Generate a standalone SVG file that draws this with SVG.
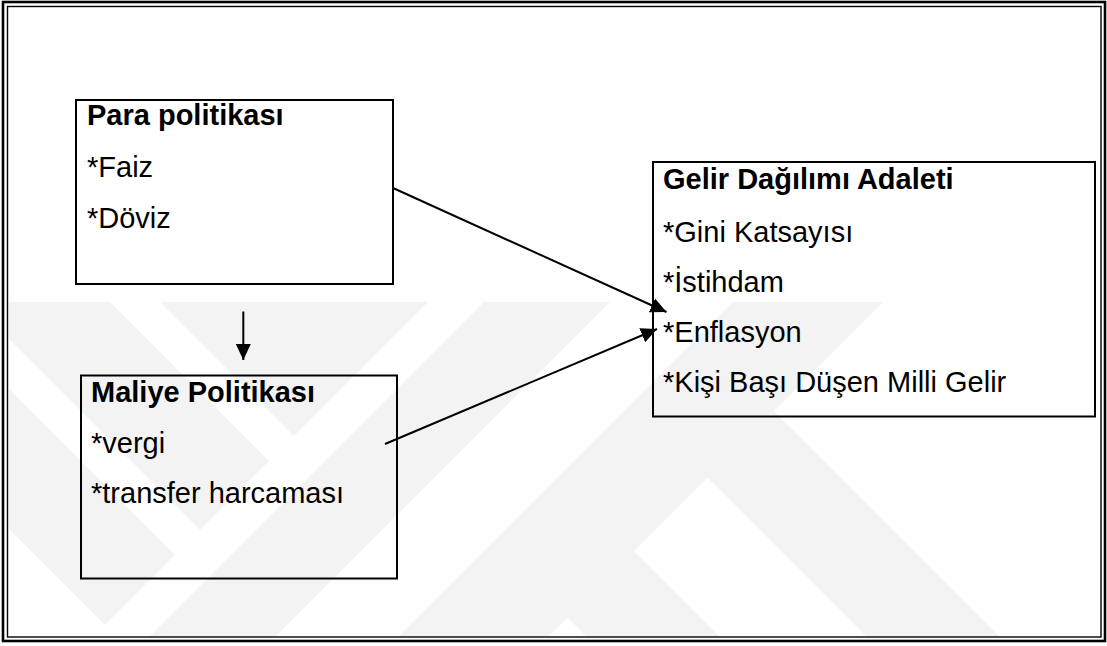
<svg xmlns="http://www.w3.org/2000/svg" width="1107" height="646" viewBox="0 0 1107 646">
  <style>
    .frame { fill: none; stroke: #000; }
    .box { fill: none; stroke: #000; stroke-width: 2; }
    .t { font-family: "Liberation Sans", Arial, sans-serif; font-size: 29px; fill: #000; }
    .b { font-weight: bold; }
    .conn { stroke: #000; stroke-width: 2; fill: none; marker-end: url(#arrow); }
    .wm { fill: #f3f3f3; }
  </style>
  <defs>
    <marker id="arrow" markerUnits="userSpaceOnUse" markerWidth="17" markerHeight="17" viewBox="0 0 17 17" refX="16" refY="8.5" orient="auto">
      <path d="M0,1 L16,8.5 L0,16 Z" fill="#000"/>
    </marker>
    <clipPath id="wmclip">
      <rect x="9" y="302" width="1091" height="334"/>
    </clipPath>
  </defs>
  <rect x="0" y="0" width="1107" height="646" fill="#fff"/>

  <g id="watermark" clip-path="url(#wmclip)">
    <polygon class="wm" points="-28,302 110,302 269,461 200,530"/>
    <polygon class="wm" points="-218,302 -78,302 175,555 105,625"/>
    <polygon class="wm" points="-408,302 -268,302 -15,555 -85,625 -100,640"/>
    <polygon class="wm" points="160,302 428,302 294,436"/>
    <polygon class="wm" points="484,302 610,302 252,660 126,660"/>
    <polygon class="wm" points="733,302 883,302 525,660 375,660"/>
    <polygon class="wm" points="774,411 1023,660 890,660 707.5,477.5"/>
    <polygon class="wm" points="634,551 743,660 610,660 567.5,617.5"/>
  </g>

  <g id="frame">
    <rect class="frame" x="3" y="2" width="1102" height="639" stroke-width="2.6"/>
    <rect class="frame" x="7.5" y="6.5" width="1093.5" height="630.5" stroke-width="1.4"/>
  </g>

  <g id="node-para">
    <rect class="box" x="76" y="100" width="317" height="184"/>
    <text class="t b" x="87" y="125">Para politikası</text>
    <text class="t" x="87" y="177">*Faiz</text>
    <text class="t" x="87" y="228">*Döviz</text>
  </g>

  <g id="node-maliye">
    <rect class="box" x="81" y="375.5" width="316" height="203"/>
    <text class="t b" x="91" y="402">Maliye Politikası</text>
    <text class="t" x="91" y="453">*vergi</text>
    <text class="t" x="91" y="503">*transfer harcaması</text>
  </g>

  <g id="node-gelir">
    <rect class="box" x="653" y="162" width="442" height="254.5"/>
    <text class="t b" x="663" y="189">Gelir Dağılımı Adaleti</text>
    <text class="t" x="663" y="241.5">*Gini Katsayısı</text>
    <text class="t" x="663" y="291.5">*İstihdam</text>
    <text class="t" x="663" y="341.5">*Enflasyon</text>
    <text class="t" x="663" y="391.5">*Kişi Başı Düşen Milli Gelir</text>
  </g>

  <g id="connectors">
    <line class="conn" x1="243.3" y1="311.5" x2="243.3" y2="360"/>
    <line class="conn" x1="393" y1="188" x2="666.5" y2="312"/>
    <line class="conn" x1="385" y1="444" x2="657" y2="329"/>
  </g>
</svg>
